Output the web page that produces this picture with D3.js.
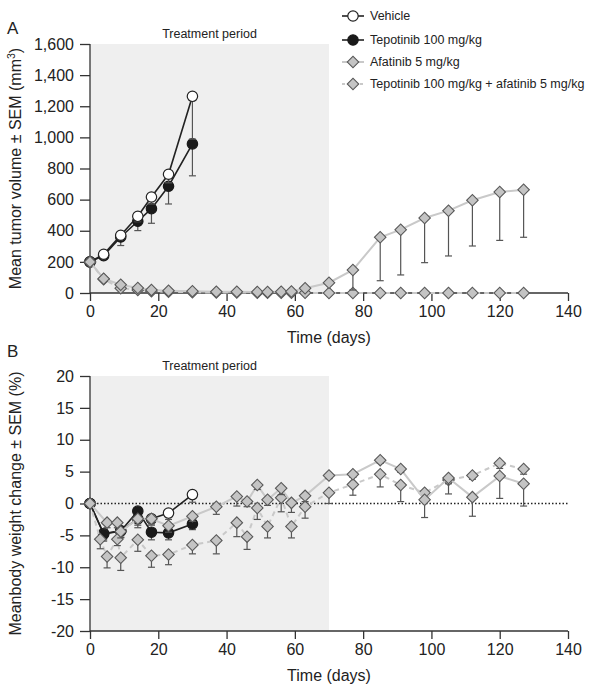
<!DOCTYPE html>
<html><head><meta charset="utf-8">
<script src="https://cdn.jsdelivr.net/npm/d3@7"></script>
<style>body{margin:0;background:#fff;} text{font-family:"Liberation Sans",Arial,sans-serif;fill:#222;}</style>
</head><body><svg id="c" width="600" height="691"></svg>
<script>
// ---- Panel A: tumor volume ----
const daysVT = [0,4,9,14,18,23,30];
const vehA = [200,249,371,493,617,763,1264];
const vehASem = [0,10,25,35,45,55,275];
const tepA = [200,240,360,461,542,686,958];
const tepASem = [0,15,55,60,94,114,205];
const daysAfA = [0,4,9,14,18,23,30,37,43,49,52,56,59,63,70,77,85,91,98,105,112,120,127];
const afaA = [200,92,53,32,19,15,11,8,8,7,7,8,10,30,66,148,358,407,482,529,596,649,664];
const afaASem = [0,0,0,0,0,0,0,0,0,0,0,0,0,0,0,129,279,291,287,291,294,311,306];
const comboA = [200,88,30,20,12,8,5,3,3,2,2,2,2,1,0,0,0,0,0,0,0,0,0];
const comboASem = [0,0,0,0,0,0,0,0,0,0,0,0,0,0,0,0,0,0,0,0,0,0,0];
const yTicksA = [0,200,400,600,800,1000,1200,1400,1600];
// ---- Panel B: body weight ----
const vehB = [0,-4.7,-4.3,-2.4,-2.4,-1.5,1.4];
const vehBSem = [0,1.0,1.0,1.0,1.0,1.0,1.2];
const tepB = [0,-4.8,-4.3,-1.2,-4.5,-4.6,-3.2];
const tepBSem = [0,1.1,1.0,0.8,1.2,1.1,0.9];
const daysAfB = [0,5,8,9,14,18,23,30,37,43,46,49,52,56,59,63,70,77,85,91,98,105,112,120,127];
const afaB = [0,-3.0,-3.0,-4.4,-2.4,-2.4,-3.5,-2.0,-0.5,1.1,0.3,2.9,0.6,2.4,0.1,1.2,4.4,4.6,6.8,5.4,0.6,4.0,1.0,4.3,3.1];
const afaBSem = [0,0.8,0.8,1.0,1.4,0.8,1.0,0.8,1.2,1.5,0.8,0.7,0.9,1.0,1.5,0.9,0.5,0.5,0.5,0.5,2.8,2.5,3.0,3.5,3.5];
const daysCoB = [0,3,5,8,9,14,18,23,30,37,43,46,49,52,56,59,63,70,77,85,91,98,105,112,120,127];
const comboB = [0,-5.6,-8.3,-5.6,-8.5,-5.7,-8.2,-8.0,-6.5,-5.8,-3.0,-5.2,-0.7,-3.6,0.9,-3.6,-0.5,1.7,3.0,4.6,2.9,1.7,3.7,4.4,6.3,5.4];
const comboBSem = [0,1.5,1.8,1.0,2.0,1.8,1.8,1.6,1.4,2.1,2.2,2.0,1.8,1.8,2.2,1.8,1.8,1.7,1.7,2.0,2.6,0.8,0.6,0.6,0.8,0.8];
const yTicksB = [-20,-15,-10,-5,0,5,10,15,20];
const xTicks = [0,20,40,60,80,100,120,140];
const treatEnd = 70;
const legendLabels = ["Vehicle","Tepotinib 100 mg/kg","Afatinib 5 mg/kg","Tepotinib 100 mg/kg + afatinib 5 mg/kg"];

const svg = d3.select("#c");
const x = d3.scaleLinear().domain([0,140]).range([90,568]);
const GRAY = "#c9c9c9", DARK = "#555";
const FS = 16;

const styles = {
  veh:  {line:"#222", w:1.6, dash:null, shape:"circle", fill:"#fff", stroke:"#222"},
  tep:  {line:"#222", w:1.6, dash:null, shape:"circle", fill:"#1a1a1a", stroke:"#1a1a1a"},
  afa:  {line:GRAY, w:2, dash:null, shape:"diamond", fill:"#c4c4c4", stroke:"#595959"},
  combo:{line:GRAY, w:2, dash:"5,4", shape:"diamond", fill:"#c4c4c4", stroke:"#595959"}
};

function drawMarker(g, st, cx, cy) {
  if (st.shape === "circle") {
    g.append("circle").attr("cx",cx).attr("cy",cy).attr("r",5.2)
      .attr("fill",st.fill).attr("stroke",st.stroke).attr("stroke-width",1.2);
  } else {
    g.append("path").attr("d",d3.symbol(d3.symbolSquare,66)())
      .attr("transform",`translate(${cx},${cy}) rotate(45)`)
      .attr("fill",st.fill).attr("stroke",st.stroke).attr("stroke-width",1.1);
  }
}

function panel(top, bottom, y, ticks, tickFmt, label, labelY, ytitle, seriesList, zeroLine) {
  const g = svg.append("g");
  g.append("rect").attr("x",x(0)).attr("y",top).attr("width",x(treatEnd)-x(0)).attr("height",bottom-top).attr("fill","#efefef");
  g.append("text").attr("x",(x(0)+x(treatEnd))/2).attr("y",top-6).attr("text-anchor","middle").attr("font-size",12.5).text("Treatment period");
  g.append("text").attr("x",7).attr("y",labelY).attr("font-size",17).text(label);
  if (zeroLine) {
    g.append("line").attr("x1",x(0)).attr("x2",x(140)).attr("y1",y(0)).attr("y2",y(0))
      .attr("stroke","#222").attr("stroke-width",1.3).attr("stroke-dasharray","1.5,2");
  }
  const ya = d3.axisLeft(y).tickValues(ticks).tickFormat(tickFmt).tickSize(10).tickPadding(6);
  const yg = g.append("g").attr("transform",`translate(${x(0)},0)`).call(ya);
  const xa = d3.axisBottom(x).tickValues(xTicks).tickSize(8).tickPadding(5);
  const xg = g.append("g").attr("transform",`translate(0,${bottom})`).call(xa);
  [yg,xg].forEach(a=>{
    a.select(".domain").attr("stroke","#333").attr("stroke-width",1.3);
    a.selectAll(".tick line").attr("stroke","#333").attr("stroke-width",1.3);
    a.selectAll(".tick text").attr("font-size",FS).attr("fill","#222").style("font-family","'Liberation Sans',Arial,sans-serif");
  });
  xg.select(".domain").attr("d",`M${x(0)},0H${x(140)}`);
  yg.select(".domain").attr("d",`M0,${top}V${bottom}`);
  g.append("text").attr("x",(x(0)+x(140))/2).attr("y",bottom+50).attr("text-anchor","middle").attr("font-size",FS).text("Time (days)");
  const yt = g.append("text").attr("transform",`translate(21,${(top+bottom)/2}) rotate(-90)`).attr("text-anchor","middle").attr("font-size",FS);
  ytitle(yt);
  seriesList.forEach(s=>{
    const st = styles[s.key];
    const pts = s.days.map((d,i)=>({d, v:s.vals[i], e:s.sem[i]}));
    const lg = g.append("g");
    lg.append("path").datum(pts).attr("fill","none").attr("stroke",st.line).attr("stroke-width",st.w)
      .attr("stroke-dasharray",st.dash).attr("d",d3.line().x(p=>x(p.d)).y(p=>y(p.v)));
    pts.forEach(p=>{
      if (p.e > 0) {
        lg.append("line").attr("x1",x(p.d)).attr("x2",x(p.d)).attr("y1",y(p.v)).attr("y2",y(p.v-p.e)).attr("stroke",DARK).attr("stroke-width",1.2);
        lg.append("line").attr("x1",x(p.d)-3.5).attr("x2",x(p.d)+3.5).attr("y1",y(p.v-p.e)).attr("y2",y(p.v-p.e)).attr("stroke",DARK).attr("stroke-width",1.2);
      }
    });
    pts.forEach(p=>drawMarker(lg, st, x(p.d), y(p.v)));
  });
}

const yA = d3.scaleLinear().domain([0,1600]).range([293,44]);
panel(44, 293, yA, yTicksA, d3.format(","), "A", 34, t=>{
  t.append("tspan").text("Mean tumor volume ± SEM (mm");
  t.append("tspan").attr("font-size",10.5).attr("dy",-6).text("3");
  t.append("tspan").attr("dy",6).text(")");
}, [
  {key:"tep", days:daysVT, vals:tepA, sem:tepASem},
  {key:"veh", days:daysVT, vals:vehA, sem:vehASem},
  {key:"combo", days:daysAfA, vals:comboA, sem:comboASem},
  {key:"afa", days:daysAfA, vals:afaA, sem:afaASem}
], false);

const yB = d3.scaleLinear().domain([-20,20]).range([631,376]);
panel(376, 631, yB, yTicksB, d=>String(d), "B", 357, t=>{
  t.text("Meanbody weight change  ± SEM (%)");
}, [
  {key:"veh", days:daysVT, vals:vehB, sem:vehBSem},
  {key:"tep", days:daysVT, vals:tepB, sem:tepBSem},
  {key:"combo", days:daysCoB, vals:comboB, sem:comboBSem},
  {key:"afa", days:daysAfB, vals:afaB, sem:afaBSem}
], true);

const keys = ["veh","tep","afa","combo"];
const lgY = [16,40,62,84];
keys.forEach((k,i)=>{
  const st = styles[k];
  const g = svg.append("g");
  g.append("line").attr("x1",342).attr("x2",364).attr("y1",lgY[i]).attr("y2",lgY[i])
    .attr("stroke",st.line).attr("stroke-width",st.w).attr("stroke-dasharray",st.dash? "3,3":null);
  drawMarker(g, st, 353, lgY[i]);
  g.append("text").attr("x",370).attr("y",lgY[i]).attr("dy","0.35em").attr("font-size",12.5).text(legendLabels[i]);
});
</script></body></html>
